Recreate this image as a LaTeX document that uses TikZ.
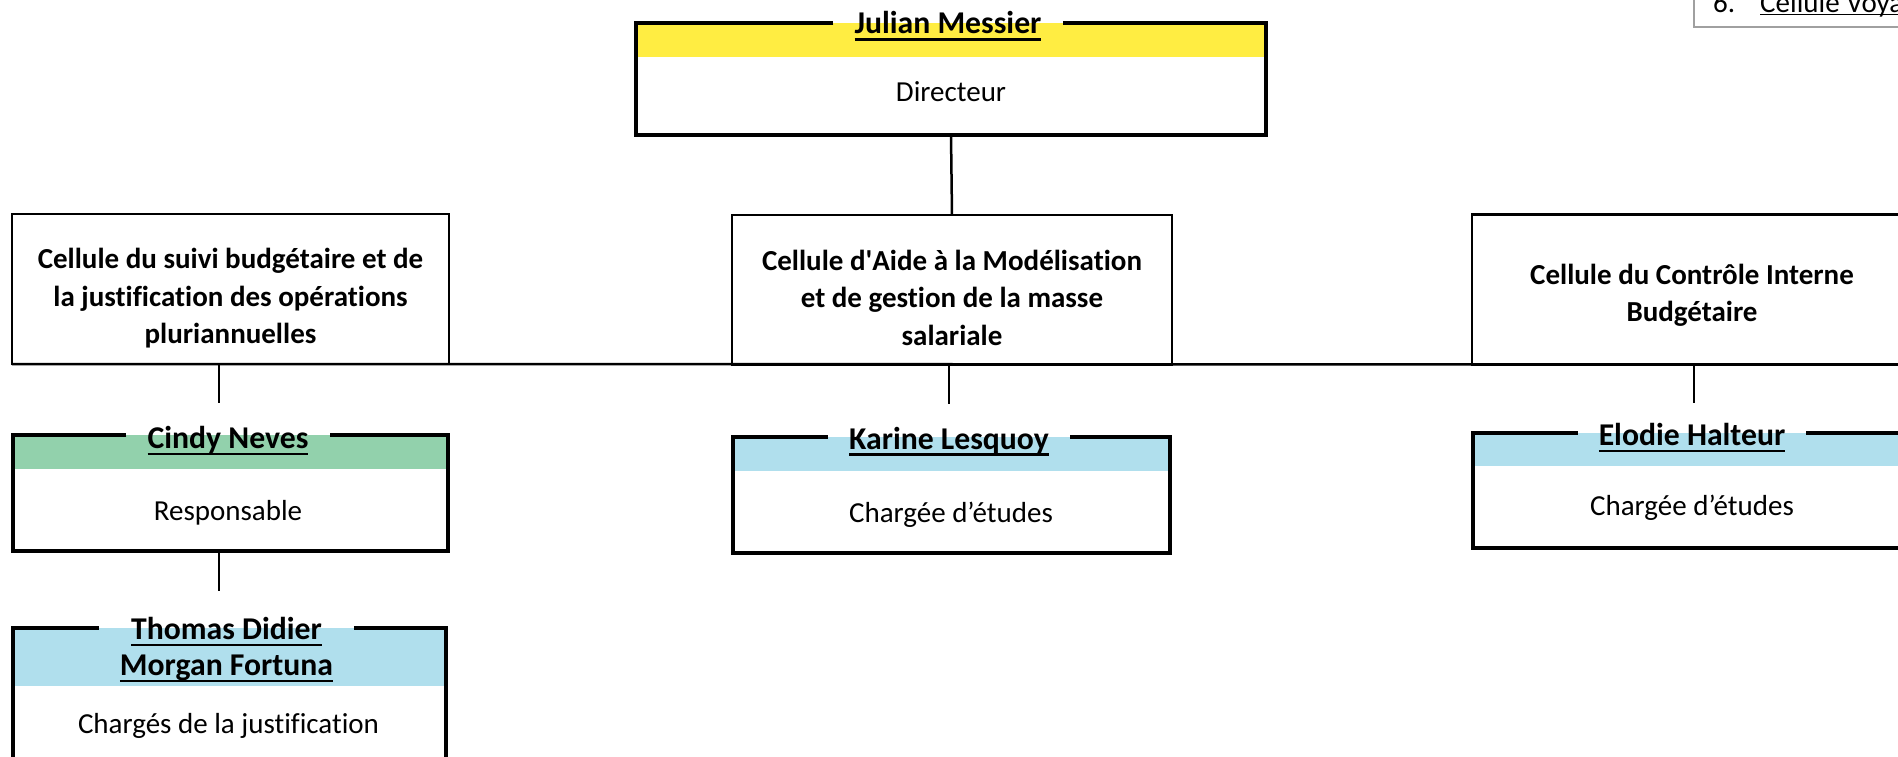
\documentclass[tikz,border=0pt]{standalone}
\usepackage{fontspec}
\setmainfont{Carlito}[Ligatures={TeX,NoCommon}]
\usetikzlibrary{calc}
\definecolor{bandyellow}{RGB}{255,237,66}
\definecolor{bandgreen}{RGB}{146,209,172}
\definecolor{bandblue}{RGB}{176,223,237}
\definecolor{legendgray}{RGB}{160,160,160}
\newcommand\myul[1]{\setbox0=\hbox{#1}\rlap{\rule[-6.6pt]{\wd0}{2.2pt}}\box0}
\newcommand\myulthin[1]{\setbox0=\hbox{#1}\rlap{\rule[-2.5pt]{\wd0}{1.5pt}}\box0}
\tikzset{
  pbox/.style={inner sep=0pt, outer sep=0pt, fill=white},
  pframe/.style={draw=black, line width=4.5pt, line join=miter},
  cbox/.style={draw=black, line width=2.5pt, fill=white, inner sep=0pt, outer sep=0pt},
  conn/.style={draw=black, line width=2.5pt},
  ptitle/.style={inner sep=0pt, font={\fontsize{31.7}{36}\selectfont\bfseries}, align=center},
  psub/.style={inner sep=0pt, font={\fontsize{29}{36}\selectfont}},
  ctext/.style={inner sep=0pt, font={\fontsize{29}{37.5}\selectfont\bfseries}, align=center},
  legendbox/.style={draw=legendgray, line width=1.5pt, fill=white},
}
\begin{document}
\begin{tikzpicture}[x=1pt, y=-1pt]
\useasboundingbox (0,0) rectangle (1898,757);
\fill[white] (0,0) rectangle (1898,757);
\clip (0,0) rectangle (1898,757);

% legend (top right)
\node[legendbox, minimum width=230pt, minimum height=50pt, inner sep=0pt, anchor=south west] (legend) at (1693,28) {};
\node[psub, anchor=base west] (legnum) at (1713,13) {6.};
\node[psub, anchor=base west] (legtxt) at (1760,13) {\myulthin{Cellule Voya}};

% Director
\node[pbox, minimum width=630pt, minimum height=112pt] (julian) at (951,79) {};
\fill[bandyellow] (julian.north west) rectangle ([yshift=-34pt]julian.north east);
\node[ptitle, anchor=base] (juliant) at (948,34) {\myul{Julian Messier}};
\node[psub, anchor=base] (juliand) at (951,102) {Directeur};
\draw[pframe] ([xshift=-21pt]juliant.west |- julian.north) -- (julian.north west) -- (julian.south west) -- (julian.south east) -- (julian.north east) -- ([xshift=21pt]juliant.east |- julian.north);

% Cells
\node[cbox, minimum width=437pt, minimum height=150pt] (cl) at (230.5,289) {};
\node[ctext] (clt) at (230.5,298.5) {Cellule du suivi budgétaire et de\\la justification des opérations\\pluriannuelles};
\node[cbox, minimum width=440pt, minimum height=150pt] (cm) at (952,290) {};
\node[ctext] (cmt) at (952,297.5) {Cellule d\textquotesingle Aide à la Modélisation\\et de gestion de la masse\\salariale};
\node[cbox, minimum width=440pt, minimum height=150pt] (cr) at (1692,289.5) {};
\node[ctext] (crt) at (1692,295.5) {Cellule du Contrôle Interne\\Budgétaire};

% connectors
\draw[conn] (julian.south) -- (cm.north);
\draw[conn] (cl.south west) -- (cr.south east);
\coordinate (c1) at (219,403);
\coordinate (c2) at (949,404);
\coordinate (c3) at (1694,403);
\draw[conn] (c1 |- cl.south) -- (c1);
\draw[conn] (c2 |- cm.south) -- (c2);
\draw[conn] (c3 |- cr.south) -- (c3);

% Cindy
\node[pbox, minimum width=435pt, minimum height=116pt] (cindy) at (230.5,493) {};
\fill[bandgreen] (cindy.north west) rectangle ([yshift=-34pt]cindy.north east);
\node[ptitle, anchor=base] (cindyt) at (228,448.5) {\myul{Cindy Neves}};
\node[psub, anchor=base] (cindyd) at (228,520) {Responsable};
\draw[pframe] ([xshift=-21pt]cindyt.west |- cindy.north) -- (cindy.north west) -- (cindy.south west) -- (cindy.south east) -- (cindy.north east) -- ([xshift=21pt]cindyt.east |- cindy.north);

\coordinate (c4) at (219,591);
\draw[conn] (c4 |- cindy.south) -- (c4);

% Thomas / Morgan
\node[pbox, minimum width=433pt, minimum height=137pt] (thomas) at (229.5,696.5) {};
\fill[bandblue] (thomas.north west) rectangle ([yshift=-58pt]thomas.north east);
\node[ptitle] (thomast) at (226.5,650) {\myul{Thomas Didier}\\\myul{Morgan Fortuna}};
\node[psub, anchor=base] (thomasd) at (228.5,733) {Chargés de la justification};
\draw[pframe] ([xshift=-21pt]thomast.west |- thomas.north) -- (thomas.north west) -- (thomas.south west) -- (thomas.south east) -- (thomas.north east) -- ([xshift=21pt]thomast.east |- thomas.north);

% Karine
\node[pbox, minimum width=437pt, minimum height=116pt] (karine) at (951.5,495) {};
\fill[bandblue] (karine.north west) rectangle ([yshift=-34pt]karine.north east);
\node[ptitle, anchor=base] (karinet) at (949,449) {\myul{Karine Lesquoy}};
\node[psub, anchor=base] (karined) at (951,522) {Chargée d’études};
\draw[pframe] ([xshift=-21pt]karinet.west |- karine.north) -- (karine.north west) -- (karine.south west) -- (karine.south east) -- (karine.north east) -- ([xshift=21pt]karinet.east |- karine.north);

% Elodie
\node[pbox, minimum width=437pt, minimum height=115pt] (elodie) at (1691.5,490.5) {};
\fill[bandblue] (elodie.north west) rectangle ([yshift=-33pt]elodie.north east);
\node[ptitle, anchor=base] (elodiet) at (1692,445.5) {\myul{Elodie Halteur}};
\node[psub, anchor=base] (elodied) at (1692,515) {Chargée d’études};
\draw[pframe] ([xshift=-21pt]elodiet.west |- elodie.north) -- (elodie.north west) -- (elodie.south west) -- (elodie.south east) -- (elodie.north east) -- ([xshift=21pt]elodiet.east |- elodie.north);
\end{tikzpicture}
\end{document}
